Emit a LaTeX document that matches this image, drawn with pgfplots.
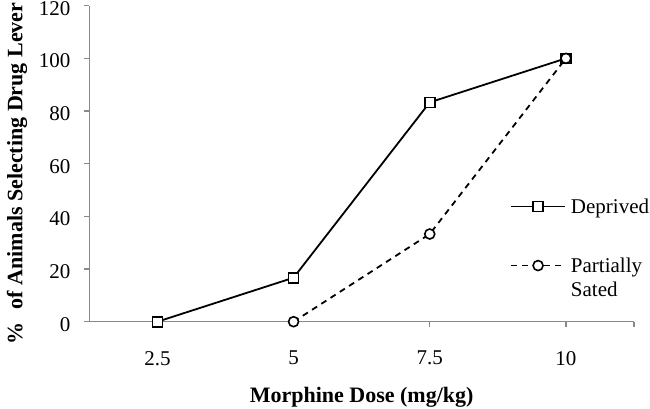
\documentclass[border=0pt]{standalone}
\usepackage{fontspec}
\setmainfont{Liberation Serif}
\usepackage{pgfplots}
\pgfplotsset{compat=1.18}
\definecolor{axisgray}{RGB}{137,137,137}
\newcommand{\fs}{\fontsize{21}{24}\selectfont}
\newcommand{\fl}{\fontsize{22}{26}\selectfont}
\begin{document}
\begin{tikzpicture}[font=\fs]
\useasboundingbox (-89.3pt,-86.3pt) rectangle (560.7pt,321.7pt);
\begin{axis}[
  scale only axis, width=544.7pt, height=316pt,
  at={(0pt,0pt)}, anchor=south west,
  xmin=0.5, xmax=4.5, ymin=0, ymax=120,
  clip=false,
  axis lines*=left,
  axis line style={draw=axisgray, line width=1.3pt},
  tick align=outside, major tick length=5pt,
  tick style={draw=axisgray, line width=1.3pt},
  xtick={1,2,3,4,4.5}, xticklabels={2.5,5,7.5,10,},
  x tick label style={yshift=-21pt, font=\fs},
  ytick={0,20,...,120},
  y tick label style={xshift=-10.5pt, yshift=-2.5pt, font=\fs},
  /pgf/number format/assume math mode=true,
  xlabel={\bfseries Morphine Dose (mg/kg)},
  xlabel style={at={(axis description cs:0.5,-0.2395)}, anchor=center, font=\fl},
  ylabel={\bfseries \%\hspace{0.6em}of Animals Selecting Drug Lever},
  ylabel style={at={(axis description cs:-0.1325,0.469)}, anchor=center, rotate=0, font=\fl},
  legend style={at={(axis description cs:0.7723,0.397)}, anchor=north west, draw=none, fill=none, inner sep=0pt, row sep=39pt, font=\fs, nodes={inner sep=2pt}},
  legend cell align=left,
  legend image code/.code={\draw[mark repeat=2, mark phase=2, #1, line width=1.8pt] plot coordinates {(0pt,0pt)(27pt,0pt)(54pt,0pt)};},
]
\addplot[black, line width=1.8pt, mark=square*, mark size=5pt, mark options={solid, fill=white, line width=1.6pt}]
  coordinates {(1,0) (2,16.7) (3,83.3) (4,100)};
\addlegendentry{\hspace{3pt}Deprived}
\addplot[black, line width=1.8pt, dash pattern=on 6pt off 5pt, mark=*, mark size=5pt, mark options={solid, fill=white, line width=1.6pt}]
  coordinates {(2,0) (3,33.3) (4,100)};
\addlegendentry{\hspace{3pt}\parbox[t]{5em}{Partially\\Sated}}
\end{axis}
\end{tikzpicture}
\end{document}
